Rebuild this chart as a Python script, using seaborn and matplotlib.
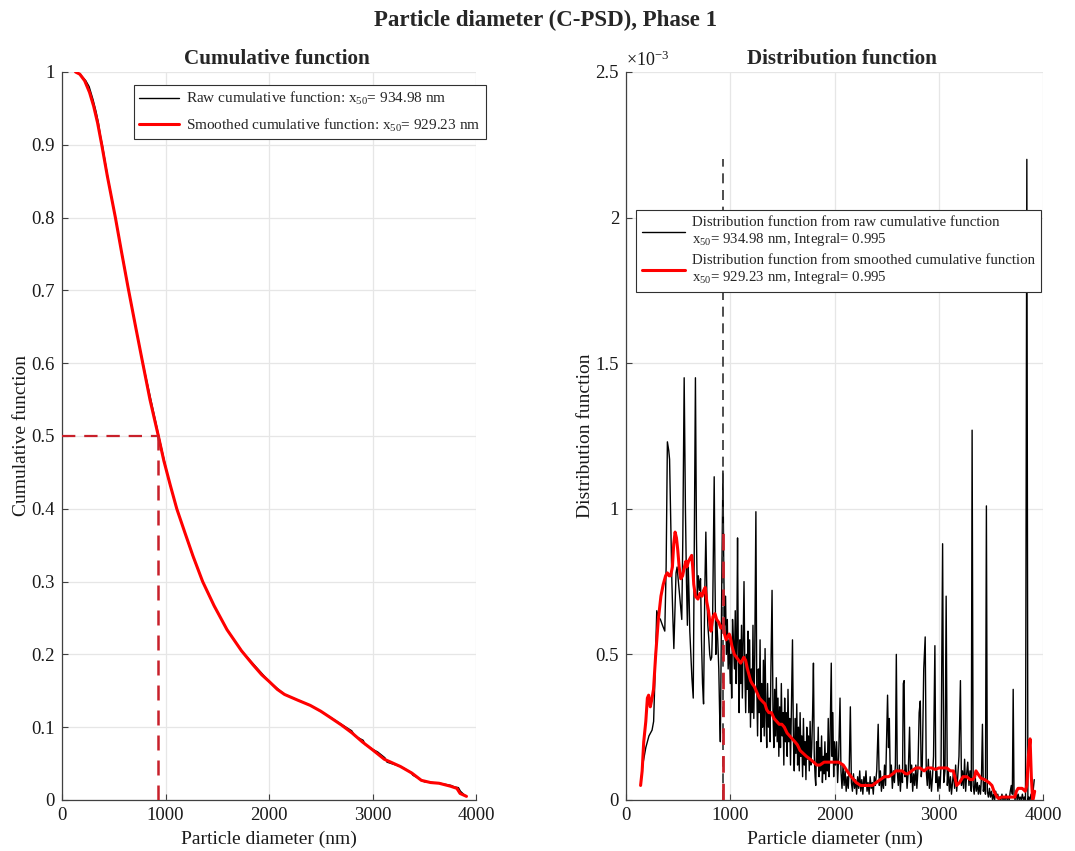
import numpy as np
import pandas as pd
import matplotlib
matplotlib.use("Agg")
import matplotlib.pyplot as plt
import seaborn as sns

# ---------------- data ----------------
x50_raw = 934.98
x50_smooth = 929.23
integral_raw = 0.995
integral_smooth = 0.995

# cumulative functions
cum_smooth_x = [131, 172, 219, 266, 306, 344, 384, 438, 516, 575, 637, 714, 776, 850, 931, 984,
                1047, 1109, 1188, 1266, 1359, 1469, 1594, 1734, 1844, 1930, 2000, 2080, 2150, 2280,
                2398, 2500, 2585, 2700, 2803, 2900, 3000, 3114, 3270, 3380, 3472, 3560, 3643,
                3752, 3815, 3846, 3908]
cum_smooth_y = [1.0, 0.997, 0.988, 0.972, 0.953, 0.93, 0.90, 0.857, 0.80, 0.753, 0.705, 0.648,
                0.603, 0.55, 0.50, 0.466, 0.432, 0.40, 0.367, 0.335, 0.30, 0.267, 0.234, 0.205,
                0.186, 0.172, 0.163, 0.152, 0.145, 0.137, 0.13, 0.122, 0.114, 0.103, 0.092, 0.08,
                0.069, 0.056, 0.046, 0.037, 0.027, 0.024, 0.023, 0.019, 0.016, 0.009, 0.005]
cum_raw_x = [131, 175, 230, 262, 300, 330, 352, 372, 392, 445, 516, 560, 600, 640, 700, 760, 800,
             935, 1030, 1110, 1190, 1266, 1360, 1470, 1600, 1740, 2000, 2150, 2400, 2590, 2700,
             2800, 2830, 2910, 2930, 3010, 3050, 3120, 3140, 3270, 3300, 3370, 3390, 3480, 3500,
             3650, 3760, 3790, 3830, 3850, 3880, 3905]
cum_raw_y = [1.0, 0.997, 0.988, 0.980, 0.962, 0.945, 0.930, 0.912, 0.898, 0.853, 0.800, 0.765,
             0.735, 0.703, 0.659, 0.615, 0.588, 0.50, 0.44, 0.40, 0.366, 0.334, 0.30, 0.266,
             0.233, 0.204, 0.163, 0.145, 0.130, 0.114, 0.104, 0.095, 0.088, 0.082, 0.076, 0.069,
             0.066, 0.058, 0.052, 0.046, 0.044, 0.038, 0.034, 0.027, 0.025, 0.023, 0.020, 0.018,
             0.017, 0.012, 0.008, 0.005]

# distribution functions (units of 1e-3)
dist_raw_x = [140, 160, 190, 220, 250, 265, 280, 295, 310, 330, 350, 372, 385, 397, 410, 418, 430,
              440, 450, 459, 470, 480, 490, 505, 520, 535, 545, 558, 570, 580, 589, 597, 605, 612,
              622, 632, 645, 656, 666, 676, 684, 694, 704, 715, 724, 734, 744, 755, 766, 776, 785,
              795, 803, 812, 822, 830, 838, 846, 854, 862, 870, 880, 890, 898, 905, 912, 920, 930,
              938, 945, 955, 963, 972, 980, 990, 1000, 1007, 1014, 1022, 1030, 1040, 1048, 1056,
              1063, 1070, 1078, 1085, 1093, 1100, 1108, 1116, 1124, 1132, 1140, 1148, 1156, 1163,
              1170, 1178, 1186, 1194, 1202, 1210, 1218, 1226, 1235, 1246, 1254, 1262, 1270, 1278,
              1286, 1294, 1302, 1310, 1318, 1326, 1334, 1342, 1350, 1358, 1366, 1374, 1382, 1390,
              1401, 1410, 1418, 1426, 1434, 1442, 1450, 1458, 1466, 1474, 1482, 1490, 1498, 1506,
              1514, 1522, 1530, 1538, 1546, 1554, 1562, 1570, 1578, 1586, 1597, 1606, 1614, 1622,
              1630, 1638, 1646, 1654, 1662, 1670, 1678, 1686, 1694, 1702, 1710, 1718, 1726, 1734,
              1742, 1750, 1758, 1766, 1774, 1782, 1790, 1798, 1806, 1814, 1820, 1828, 1836, 1844,
              1852, 1860, 1868, 1876, 1884, 1892, 1900, 1908, 1916, 1924, 1932, 1940, 1948, 1956,
              1969, 1976, 1984, 1992, 2000, 2010, 2020, 2030, 2040, 2053, 2062, 2072, 2082, 2092,
              2102, 2112, 2122, 2132, 2142, 2152, 2162, 2172, 2182, 2192, 2202, 2212, 2222, 2232,
              2242, 2252, 2262, 2272, 2282, 2292, 2302, 2312, 2322, 2332, 2342, 2352, 2362, 2372,
              2382, 2392, 2405, 2419, 2430, 2440, 2450, 2460, 2470, 2480, 2490, 2500, 2509, 2518,
              2526, 2535, 2545, 2555, 2565, 2575, 2584, 2593, 2602, 2612, 2622, 2632, 2642, 2652,
              2660, 2668, 2676, 2686, 2696, 2708, 2720, 2730, 2740, 2750, 2760, 2770, 2780, 2790,
              2800, 2812, 2823, 2832, 2842, 2856, 2870, 2880, 2890, 2900, 2910, 2920, 2930, 2940,
              2950, 2963, 2972, 2982, 2992, 3002, 3012, 3022, 3037, 3048, 3060, 3071, 3082, 3092,
              3102, 3112, 3122, 3132, 3142, 3152, 3162, 3172, 3182, 3194, 3208, 3218, 3228, 3238,
              3248, 3258, 3268, 3278, 3290, 3300, 3312, 3320, 3330, 3340, 3350, 3360, 3370, 3380,
              3390, 3400, 3410, 3419, 3428, 3438, 3448, 3457, 3466, 3476, 3486, 3496, 3506, 3516,
              3526, 3536, 3546, 3556, 3566, 3576, 3586, 3596, 3606, 3616, 3626, 3636, 3646, 3656,
              3666, 3676, 3686, 3696, 3706, 3714, 3722, 3732, 3742, 3752, 3762, 3772, 3782, 3792,
              3802, 3812, 3822, 3832, 3845, 3855, 3865, 3875, 3885, 3895, 3905, 3916]
dist_raw_y = [0.05, 0.12, 0.18, 0.22, 0.24, 0.27, 0.45, 0.65, 0.63, 0.62, 0.60, 0.58, 0.80, 1.23,
              1.20, 1.17, 0.95, 0.75, 0.62, 0.52, 0.65, 0.78, 0.80, 0.74, 0.68, 0.62, 0.90, 1.45,
              1.00, 0.75, 0.60, 0.80, 0.70, 0.58, 0.50, 0.42, 0.35, 0.90, 1.45, 0.90, 0.70, 0.77,
              0.72, 0.76, 0.55, 0.40, 0.33, 0.70, 0.92, 0.70, 0.60, 0.55, 0.50, 0.48, 0.49, 0.60,
              0.85, 1.11, 0.75, 0.50, 0.62, 0.55, 0.45, 0.30, 0.20, 0.50, 0.80, 1.13, 0.80, 0.60,
              0.70, 0.50, 0.62, 0.45, 0.55, 0.40, 0.50, 0.35, 0.62, 0.55, 0.45, 0.65, 0.40, 0.55,
              0.90, 0.45, 0.30, 0.55, 0.40, 0.60, 0.35, 0.55, 0.75, 0.45, 0.30, 0.50, 0.38, 0.58,
              0.30, 0.55, 0.25, 0.45, 0.30, 0.60, 0.28, 0.50, 0.99, 0.40, 0.22, 0.45, 0.30, 0.55,
              0.20, 0.40, 0.25, 0.48, 0.22, 0.52, 0.30, 0.18, 0.40, 0.25, 0.35, 0.20, 0.45, 0.72,
              0.30, 0.18, 0.38, 0.22, 0.42, 0.20, 0.35, 0.15, 0.32, 0.18, 0.40, 0.22, 0.30, 0.12,
              0.35, 0.20, 0.30, 0.15, 0.38, 0.20, 0.28, 0.12, 0.30, 0.55, 0.20, 0.10, 0.28, 0.16,
              0.33, 0.12, 0.25, 0.10, 0.30, 0.15, 0.22, 0.08, 0.28, 0.12, 0.20, 0.07, 0.25, 0.14,
              0.22, 0.10, 0.27, 0.12, 0.18, 0.30, 0.47, 0.15, 0.08, 0.05, 0.20, 0.12, 0.25, 0.08,
              0.18, 0.10, 0.22, 0.06, 0.15, 0.09, 0.20, 0.07, 0.16, 0.10, 0.28, 0.08, 0.18, 0.47,
              0.15, 0.30, 0.08, 0.20, 0.12, 0.20, 0.06, 0.15, 0.35, 0.10, 0.04, 0.12, 0.05, 0.10,
              0.03, 0.08, 0.04, 0.12, 0.32, 0.06, 0.03, 0.09, 0.04, 0.07, 0.02, 0.08, 0.04, 0.10,
              0.03, 0.07, 0.02, 0.08, 0.05, 0.10, 0.03, 0.06, 0.02, 0.08, 0.04, 0.06, 0.02, 0.08,
              0.05, 0.10, 0.26, 0.05, 0.10, 0.03, 0.08, 0.04, 0.12, 0.05, 0.22, 0.36, 0.18, 0.28,
              0.08, 0.12, 0.04, 0.10, 0.06, 0.12, 0.50, 0.10, 0.05, 0.12, 0.03, 0.10, 0.06, 0.40,
              0.41, 0.08, 0.12, 0.04, 0.10, 0.25, 0.06, 0.12, 0.03, 0.09, 0.05, 0.12, 0.04, 0.10,
              0.30, 0.34, 0.08, 0.12, 0.45, 0.56, 0.10, 0.05, 0.14, 0.04, 0.10, 0.03, 0.08, 0.15,
              0.53, 0.06, 0.10, 0.03, 0.08, 0.04, 0.12, 0.88, 0.06, 0.10, 0.70, 0.05, 0.10, 0.03,
              0.08, 0.02, 0.06, 0.10, 0.04, 0.12, 0.03, 0.08, 0.15, 0.41, 0.05, 0.10, 0.04, 0.14,
              0.03, 0.09, 0.13, 0.05, 0.10, 0.03, 1.27, 0.05, 0.02, 0.08, 0.03, 0.06, 0.02, 0.05,
              0.02, 0.08, 0.26, 0.03, 0.06, 0.02, 1.01, 0.03, 0.01, 0.04, 0.01, 0.03, 0.00, 0.02,
              0.00, 0.03, 0.01, 0.02, 0.00, 0.01, 0.00, 0.02, 0.00, 0.01, 0.00, 0.02, 0.00, 0.01,
              0.00, 0.03, 0.05, 0.02, 0.38, 0.02, 0.00, 0.03, 0.00, 0.02, 0.00, 0.01, 0.00, 0.02,
              0.00, 0.01, 0.00, 2.20, 0.00, 0.01, 0.00, 0.02, 0.00, 0.03, 0.07]
dist_smooth_x = [140, 155, 170, 190, 205, 217, 233, 250, 264, 285, 310, 335, 357, 380, 397, 412,
                 428, 445, 458, 471, 484, 496, 510, 525, 543, 560, 575, 583, 600, 615, 630, 640,
                 650, 666, 690, 710, 729, 745, 760, 775, 791, 805, 815, 822, 835, 853, 870, 890,
                 910, 930, 945, 961, 975, 990, 1000, 1015, 1039, 1060, 1080, 1100, 1116, 1130,
                 1147, 1165, 1180, 1195, 1209, 1230, 1255, 1280, 1305, 1333, 1350, 1370, 1395,
                 1420, 1445, 1470, 1495, 1519, 1545, 1570, 1595, 1620, 1643, 1670, 1700, 1730,
                 1767, 1800, 1830, 1860, 1900, 1940, 1985, 2000, 2040, 2084, 2120, 2160, 2208,
                 2250, 2286, 2330, 2363, 2400, 2440, 2480, 2519, 2560, 2590, 2612, 2650, 2680,
                 2705, 2740, 2782, 2820, 2860, 2891, 2930, 2969, 3000, 3040, 3078, 3110, 3140,
                 3160, 3171, 3200, 3233, 3270, 3300, 3326, 3345, 3357, 3375, 3404, 3440, 3482,
                 3510, 3530, 3544, 3560, 3575, 3600, 3637, 3680, 3730, 3745, 3761, 3800, 3830,
                 3845, 3860, 3876, 3888, 3901, 3910, 3920]
dist_smooth_y = [0.05, 0.10, 0.20, 0.27, 0.35, 0.36, 0.32, 0.35, 0.38, 0.50, 0.62, 0.70, 0.74,
                 0.77, 0.78, 0.77, 0.77, 0.80, 0.88, 0.92, 0.90, 0.86, 0.80, 0.76, 0.77, 0.80,
                 0.82, 0.80, 0.82, 0.83, 0.84, 0.80, 0.74, 0.70, 0.69, 0.71, 0.70, 0.72, 0.73,
                 0.68, 0.65, 0.61, 0.58, 0.60, 0.63, 0.64, 0.62, 0.61, 0.59, 0.60, 0.57, 0.55,
                 0.56, 0.57, 0.56, 0.53, 0.50, 0.49, 0.48, 0.47, 0.48, 0.49, 0.48, 0.45, 0.43,
                 0.41, 0.40, 0.39, 0.37, 0.35, 0.34, 0.33, 0.31, 0.30, 0.30, 0.28, 0.27, 0.26,
                 0.26, 0.25, 0.23, 0.22, 0.21, 0.20, 0.19, 0.17, 0.16, 0.15, 0.14, 0.13, 0.12,
                 0.12, 0.13, 0.13, 0.13, 0.13, 0.13, 0.12, 0.10, 0.08, 0.06, 0.05, 0.05, 0.05,
                 0.05, 0.06, 0.07, 0.08, 0.08, 0.09, 0.10, 0.10, 0.10, 0.09, 0.09, 0.10, 0.11,
                 0.11, 0.10, 0.11, 0.11, 0.105, 0.11, 0.11, 0.11, 0.10, 0.10, 0.07, 0.05, 0.06,
                 0.08, 0.08, 0.07, 0.07, 0.08, 0.10, 0.09, 0.075, 0.07, 0.06, 0.05, 0.03, 0.02,
                 0.01, 0.005, 0.01, 0.01, 0.01, 0.01, 0.03, 0.04, 0.04, 0.03, 0.05, 0.15, 0.21,
                 0.08, 0.00, 0.01, 0.03]

x_ticks = [0, 1000, 2000, 3000, 4000]
cum_yticks = [0, 0.1, 0.2, 0.3, 0.4, 0.5, 0.6, 0.7, 0.8, 0.9, 1.0]
dist_yticks = [0, 0.5, 1.0, 1.5, 2.0, 2.5]

# ---------------- style ----------------
sns.set_theme(style="whitegrid")
plt.rcParams['font.family'] = ['Liberation Serif', 'DejaVu Serif']
plt.rcParams['mathtext.fontset'] = 'custom'
plt.rcParams['mathtext.rm'] = 'Liberation Serif'
plt.rcParams['mathtext.it'] = 'Liberation Serif:italic'
plt.rcParams['mathtext.bf'] = 'Liberation Serif:bold'

AX_COL = '#404040'
GRID_COL = '#e6e6e6'
RED = '#ff0000'
DRED = '#c8202a'

fig = plt.figure(figsize=(10.75, 8.51), dpi=100)
ax1 = fig.add_axes([62 / 1075, 1 - 800 / 851, (476 - 62) / 1075, (800 - 72) / 851])
ax2 = fig.add_axes([626 / 1075, 1 - 800 / 851, (1043 - 626) / 1075, (800 - 72) / 851])


def style_axes(ax):
    ax.set_facecolor('white')
    for s in ['top', 'right']:
        ax.spines[s].set_visible(False)
    for s in ['left', 'bottom']:
        ax.spines[s].set_visible(True)
        ax.spines[s].set_color(AX_COL)
        ax.spines[s].set_linewidth(0.9)
    ax.grid(True, color=GRID_COL, linewidth=0.9)
    ax.tick_params(axis='both', direction='in', length=4, width=0.8, color=AX_COL,
                   labelsize=13.5, labelcolor='#1a1a1a', pad=5,
                   left=True, bottom=True)
    ax.set_axisbelow(True)


fmt = matplotlib.ticker.FuncFormatter(lambda v, p: f"{v:g}")
DASH = (0, (6, 4))

# ---------------- left: cumulative ----------------
df_cr = pd.DataFrame({'x': cum_raw_x, 'y': cum_raw_y})
df_cs = pd.DataFrame({'x': cum_smooth_x, 'y': cum_smooth_y})
sns.lineplot(data=df_cr, x='x', y='y', ax=ax1, color='black', linewidth=1.0, estimator=None,
             sort=False, label=r'Raw cumulative function: x$_{50}$= ' + f'{x50_raw:.2f} nm')
sns.lineplot(data=df_cs, x='x', y='y', ax=ax1, color=RED, linewidth=2.2, estimator=None,
             sort=False, label=r'Smoothed cumulative function: x$_{50}$= ' + f'{x50_smooth:.2f} nm')
ax1.plot([0, x50_smooth], [0.5, 0.5], ls=DASH, color=DRED, lw=1.6, zorder=3)
ax1.plot([x50_smooth, x50_smooth], [0, 0.5], ls=DASH, color=DRED, lw=1.8, zorder=3)
style_axes(ax1)
ax1.set_xlim(0, 4000)
ax1.set_ylim(0, 1)
ax1.set_xticks(x_ticks)
ax1.set_yticks(cum_yticks)
ax1.xaxis.set_major_formatter(fmt)
ax1.yaxis.set_major_formatter(fmt)
ax1.set_xlabel('Particle diameter (nm)', fontsize=14, color='#1a1a1a', labelpad=5)
ax1.set_ylabel('Cumulative function', fontsize=14, color='#1a1a1a', labelpad=1)
ax1.set_title('Cumulative function', fontsize=15.2, fontweight='bold', pad=6, x=0.52)
leg1 = ax1.legend(loc='upper right', bbox_to_anchor=(486 / 1075, 1 - 85 / 851),
                  bbox_transform=fig.transFigure, fontsize=11, frameon=True, fancybox=False,
                  framealpha=1, edgecolor='#303030', handlelength=2.6, borderpad=0.35,
                  labelspacing=0.6, handletextpad=0.5, borderaxespad=0)
leg1.get_frame().set_linewidth(0.8)

# ---------------- right: distribution ----------------
df_dr = pd.DataFrame({'x': dist_raw_x, 'y': dist_raw_y})
df_ds = pd.DataFrame({'x': dist_smooth_x, 'y': dist_smooth_y})
sns.lineplot(data=df_dr, x='x', y='y', ax=ax2, color='black', linewidth=1.0, estimator=None,
             sort=False,
             label='Distribution function from raw cumulative function\n'
                   r'x$_{50}$= ' + f'{x50_raw:.2f} nm, Integral= {integral_raw:.3f}')
sns.lineplot(data=df_ds, x='x', y='y', ax=ax2, color=RED, linewidth=2.2, estimator=None,
             sort=False,
             label='Distribution function from smoothed cumulative function\n'
                   r'x$_{50}$= ' + f'{x50_smooth:.2f} nm, Integral= {integral_smooth:.3f}')
ax2.plot([x50_raw, x50_raw], [0, max(dist_raw_y)], ls=DASH, color='#303030', lw=1.2, zorder=3)
ax2.plot([x50_smooth, x50_smooth], [0, max(dist_smooth_y)], ls=DASH, color=DRED, lw=2.0,
         zorder=3.1)
style_axes(ax2)
ax2.set_xlim(0, 4000)
ax2.set_ylim(0, 2.5)
ax2.set_xticks(x_ticks)
ax2.set_yticks(dist_yticks)
ax2.xaxis.set_major_formatter(fmt)
ax2.yaxis.set_major_formatter(fmt)
ax2.set_xlabel('Particle diameter (nm)', fontsize=14, color='#1a1a1a', labelpad=5)
ax2.set_ylabel('Distribution function', fontsize=14, color='#1a1a1a', labelpad=1)
ax2.set_title('Distribution function', fontsize=15.2, fontweight='bold', pad=6, x=0.518)
ax2.text(0.0, 1.003, r'$\times$10$^{-3}$', transform=ax2.transAxes, fontsize=13,
         ha='left', va='bottom', color='#1a1a1a')
leg2 = ax2.legend(loc='upper left', bbox_to_anchor=(636 / 1075, 1 - 210 / 851),
                  bbox_transform=fig.transFigure, fontsize=10.7, frameon=True, fancybox=False,
                  framealpha=1, edgecolor='#303030', handlelength=2.9, borderpad=0.4,
                  labelspacing=0.35, handletextpad=0.5, borderaxespad=0)
leg2.get_frame().set_linewidth(0.8)

fig.suptitle('Particle diameter (C-PSD), Phase 1', fontsize=16.5, fontweight='bold',
             x=546 / 1075, y=1 - 10 / 851, va='top')

fig.savefig('out.png', dpi=100, facecolor='white')
